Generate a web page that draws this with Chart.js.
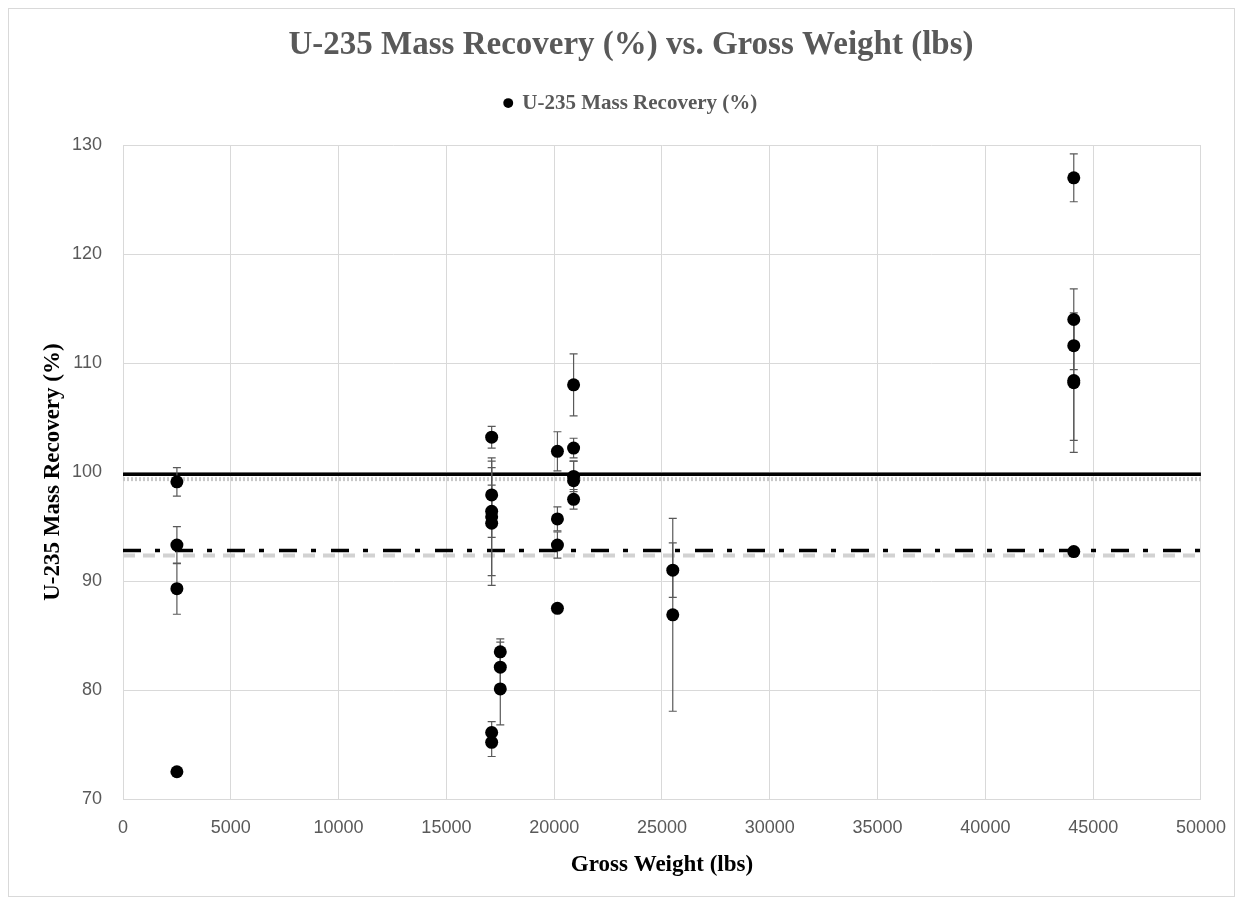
<!DOCTYPE html>
<html>
<head>
<meta charset="utf-8">
<script src="https://cdn.jsdelivr.net/npm/chart.js@4.4.1/dist/chart.umd.min.js"></script>
<style>
  html, body { margin: 0; padding: 0; background: #fff; }
  canvas { display: block; }
</style>
</head>
<body>
<canvas id="recoveryChart" width="1244" height="899" style="width:1244px;height:899px"></canvas>
<script>
// measured points: gross weight (lbs), U-235 recovery (%), +/- error
const grossWeight = [
  2500, 2500, 2500, 2500,
  17100, 17100, 17100, 17100, 17100, 17100, 17100,
  17500, 17500, 17500,
  20150, 20150, 20150, 20150,
  20900, 20900, 20900, 20900, 20900,
  25500, 25500,
  44100, 44100, 44100, 44100, 44100, 44100
];
const massRecovery = [
  99.1, 93.3, 89.3, 72.5,
  103.2, 97.9, 96.4, 95.9, 95.3, 76.1, 75.2,
  83.5, 82.1, 80.1,
  101.9, 95.7, 93.3, 87.5,
  108.0, 102.2, 99.6, 99.2, 97.5,
  91.0, 86.9,
  127.0, 114.0, 111.6, 108.4, 108.2, 92.7
];
const recoveryError = [
  1.3, 1.7, 2.35, 0,
  1.0, 2.5, 2.4, 5.4, 5.7, 1.0, 1.3,
  1.2, 2.3, 3.3,
  1.8, 1.1, 1.2, 0,
  2.85, 0.9, 1.4, 1.8, 0.9,
  2.5, 8.85,
  2.2, 2.8, 2.2, 5.5, 6.4, 0
];

// reference levels across the whole weight range
const refLineX = [0, 50000];
const meanLevel = 99.8;
const meanShadowLevel = 99.35;
const lowLevel = 92.8;
const lowShadowLevel = 92.35;

const xMin = 0, xMax = 50000, xStep = 5000;
const yMin = 70, yMax = 130, yStep = 10;

const seriesLabel = 'U-235 Mass Recovery (%)';

const points = grossWeight.map((w, i) => ({ x: w, y: massRecovery[i] }));
const levelLine = (lvl) => refLineX.map(x => ({ x: x, y: lvl }));

const frame = {
  id: 'frame',
  beforeDraw(chart) {
    const c = chart.ctx;
    c.save();
    c.fillStyle = '#ffffff';
    c.fillRect(0, 0, chart.width, chart.height);
    c.strokeStyle = '#d9d9d9';
    c.lineWidth = 1;
    c.strokeRect(8.5, 8.5, chart.width - 18, chart.height - 11);
    c.restore();
  }
};

const errorBars = {
  id: 'errorBars',
  beforeDatasetDraw(chart, args) {
    if (args.index !== 0) return;
    const c = chart.ctx;
    const xs = chart.scales.x, ys = chart.scales.y;
    c.save();
    c.strokeStyle = '#595959';
    c.lineWidth = 1.2;
    grossWeight.forEach((w, i) => {
      const e = recoveryError[i];
      if (!e) return;
      const px = xs.getPixelForValue(w);
      const top = ys.getPixelForValue(massRecovery[i] + e);
      const bot = ys.getPixelForValue(massRecovery[i] - e);
      c.beginPath();
      c.moveTo(px, top); c.lineTo(px, bot);
      c.moveTo(px - 4, top); c.lineTo(px + 4, top);
      c.moveTo(px - 4, bot); c.lineTo(px + 4, bot);
      c.stroke();
    });
    c.restore();
  }
};

const ctx = document.getElementById('recoveryChart');

new Chart(ctx, {
  type: 'scatter',
  data: {
    datasets: [
      {
        label: seriesLabel,
        data: points,
        backgroundColor: '#000000',
        borderColor: '#000000',
        pointRadius: 6.5,
        pointBorderWidth: 0,
        order: 0
      },
      {
        label: 'mean',
        data: levelLine(meanLevel),
        showLine: true,
        borderColor: '#000000',
        borderWidth: 3.5,
        pointRadius: 0,
        order: 1
      },
      {
        label: 'mean shadow',
        data: levelLine(meanShadowLevel),
        showLine: true,
        borderColor: '#c8c8c8',
        borderWidth: 4,
        borderDash: [2, 2],
        pointRadius: 0,
        order: 2
      },
      {
        label: 'low',
        data: levelLine(lowLevel),
        showLine: true,
        borderColor: '#000000',
        borderWidth: 3.5,
        borderDash: [18, 14, 5, 15],
        pointRadius: 0,
        order: 1
      },
      {
        label: 'low shadow',
        data: levelLine(lowShadowLevel),
        showLine: true,
        borderColor: '#d2d2d2',
        borderWidth: 4,
        borderDash: [12, 8],
        pointRadius: 0,
        order: 2
      }
    ]
  },
  options: {
    responsive: false,
    animation: false,
    devicePixelRatio: 1,
    layout: { padding: { left: 18, right: 0, top: 0, bottom: 0 } },
    plugins: {
      title: {
        display: true,
        text: 'U-235 Mass Recovery (%) vs. Gross Weight (lbs)',
        color: '#595959',
        font: { family: 'Liberation Serif', size: 33, weight: 'bold' },
        padding: { top: 26, bottom: 17 }
      },
      legend: {
        display: true,
        labels: {
          color: '#595959',
          font: { family: 'Liberation Serif', size: 21, weight: 'bold' },
          usePointStyle: true,
          pointStyle: 'circle',
          boxWidth: 7,
          boxHeight: 7,
          filter: (item) => item.datasetIndex === 0
        }
      },
      tooltip: { enabled: false }
    },
    scales: {
      x: {
        type: 'linear',
        min: xMin,
        max: xMax,
        afterFit: (s) => { s.height = 100; },
        grid: { color: '#d9d9d9', lineWidth: 1, drawTicks: false },
        border: { color: '#d9d9d9' },
        ticks: {
          stepSize: xStep,
          padding: 18,
          color: '#595959',
          font: { family: 'Liberation Sans', size: 18 },
          callback: (v) => String(v)
        },
        title: {
          display: true,
          text: 'Gross Weight (lbs)',
          color: '#000000',
          font: { family: 'Liberation Serif', size: 23, weight: 'bold' },
          padding: { top: 0, bottom: 20 }
        }
      },
      spacerTop: {
        type: 'linear',
        position: 'top',
        display: true,
        afterFit: (s) => { s.height = 21.5; },
        grid: { display: false },
        border: { display: false },
        ticks: { display: false }
      },
      spacerRight: {
        type: 'linear',
        position: 'right',
        display: true,
        afterFit: (s) => { s.width = 43; },
        grid: { display: false },
        border: { display: false },
        ticks: { display: false }
      },
      y: {
        type: 'linear',
        min: yMin,
        max: yMax,
        afterFit: (s) => { s.width = 105; },
        grid: { color: '#d9d9d9', lineWidth: 1, drawTicks: false },
        border: { color: '#d9d9d9' },
        ticks: {
          stepSize: yStep,
          padding: 21,
          color: '#595959',
          font: { family: 'Liberation Sans', size: 18 }
        },
        title: {
          display: true,
          text: 'U-235 Mass Recovery (%)',
          color: '#000000',
          font: { family: 'Liberation Serif', size: 23, weight: 'bold' },
          padding: { top: 21, bottom: 0 }
        }
      }
    }
  },
  plugins: [frame, errorBars]
});
</script>
</body>
</html>
